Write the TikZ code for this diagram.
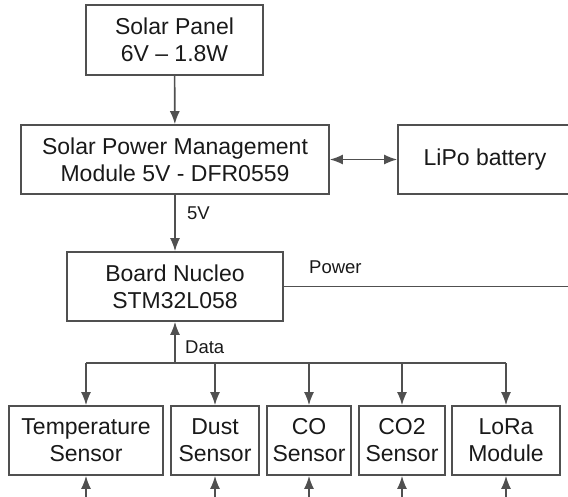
\documentclass[tikz,border=0pt]{standalone}
\usepackage{fontspec}
\setmainfont{Liberation Sans}
\usetikzlibrary{arrows.meta}
\definecolor{ln}{RGB}{80,80,80}
\definecolor{tx}{RGB}{25,25,25}
\begin{document}
\begin{tikzpicture}[x=1pt,y=-1pt,
  box/.style={draw=ln, line width=1.6pt, inner sep=0pt, align=center, text=tx,
              font=\fontsize{23}{27}\selectfont},
  conn/.style={draw=ln, line width=1.6pt},
  arr/.style={conn, -{Latex[length=13pt,width=10pt]}},
  darr/.style={conn, {Latex[length=13pt,width=10pt]}-{Latex[length=13pt,width=10pt]}},
  lbl/.style={text=tx, font=\fontsize{18.5}{21}\selectfont, inner sep=0pt, anchor=west}]
\useasboundingbox (0,0) rectangle (568,496);
\clip (0,0) rectangle (568,496);

% boxes
\node[box, minimum width=177pt, minimum height=70pt] (solar) at (174.5,40) {Solar Panel\\6V -- 1.8W};
\node[box, minimum width=308pt, minimum height=69pt] (spm) at (175,159.5) {Solar Power Management\\Module 5V - DFR0559};
\node[box, minimum width=174pt, minimum height=69pt] (lipo) at (485,159.5) {LiPo battery};
\node[box, minimum width=216pt, minimum height=69pt] (nucleo) at (175,286.5) {Board Nucleo\\STM32L058};

\node[box, minimum width=154pt, minimum height=69pt] (temp) at (86,440.5) {Temperature\\Sensor};
\node[box, minimum width=88pt, minimum height=69pt] (dust) at (215,440.5) {Dust\\Sensor};
\node[box, minimum width=84pt, minimum height=69pt] (co) at (309,440.5) {CO\\Sensor};
\node[box, minimum width=86pt, minimum height=69pt] (co2) at (402,440.5) {CO2\\Sensor};
\node[box, minimum width=108pt, minimum height=69pt] (lora) at (506,440.5) {LoRa\\Module};

% labels
\node[lbl] (l5v) at (187,213) {5V};
\node[lbl] (ldata) at (185,347) {Data};
\node[lbl] (lpower) at (309,267) {Power};

% coordinates
\coordinate (bd) at (175,363);
\coordinate (b1) at (86,363);
\coordinate (b2) at (215,363);
\coordinate (b3) at (309,363);
\coordinate (b4) at (402,363);
\coordinate (b5) at (506,363);
\coordinate (e1) at (86,497);
\coordinate (e2) at (215,497);
\coordinate (e3) at (309,497);
\coordinate (e4) at (402,497);
\coordinate (e5) at (506,497);
\coordinate (pe) at (570,286.5);

% connectors
\draw[arr] (solar) -- (spm);
\draw[darr] (spm) -- (lipo);
\draw[arr] (spm) -- (nucleo);
\draw[conn] (nucleo.east) -- (pe);
\draw[arr] (bd) -- (nucleo.south);
\draw[conn] (b1) -- (b5);
\draw[arr] (b1) -- (temp.north);
\draw[arr] (b2) -- (dust.north);
\draw[arr] (b3) -- (co.north);
\draw[arr] (b4) -- (co2.north);
\draw[arr] (b5) -- (lora.north);
\draw[arr] (e1) -- (temp.south);
\draw[arr] (e2) -- (dust.south);
\draw[arr] (e3) -- (co.south);
\draw[arr] (e4) -- (co2.south);
\draw[arr] (e5) -- (lora.south);
\end{tikzpicture}
\end{document}
